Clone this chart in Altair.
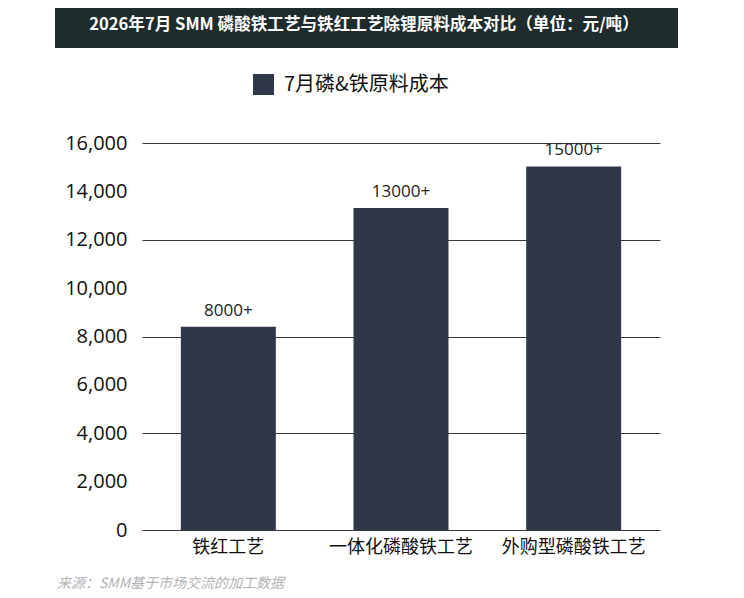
import altair as alt
import pandas as pd

# ---- data ----
categories = ["铁红工艺", "一体化磷酸铁工艺", "外购型磷酸铁工艺"]
values = [8400, 13310, 15030]
value_labels = ["8000+", "13000+", "15000+"]
series_name = "7月磷&铁原料成本"
title_text = "2026年7月 SMM 磷酸铁工艺与铁红工艺除锂原料成本对比（单位：元/吨）"
source_text = "来源：SMM基于市场交流的加工数据"
y_ticks = list(range(0, 16001, 2000))

df = pd.DataFrame({
    "process": categories,
    "value": values,
    "label": value_labels,
    "series": [series_name] * len(categories),
})

FONT = "Open Sans, Noto Sans CJK SC, sans-serif"
BAR = "#2f3749"
W, H = 518, 387

x_enc = alt.X(
    "process:N", sort=categories,
    scale=alt.Scale(paddingInner=0.45, paddingOuter=0.225),
    axis=alt.Axis(title=None, labelAngle=0, domain=False, ticks=False,
                  labelFontSize=18, labelPadding=8, labelColor="#111111",
                  labelFont="Noto Sans CJK SC", labelLimit=0),
)
y_enc = alt.Y(
    "value:Q",
    scale=alt.Scale(domain=[0, 16000], nice=False),
    axis=alt.Axis(values=y_ticks, format=",d", title=None, domain=False, ticks=False,
                  labelFontSize=20, labelPadding=15, labelColor="#111111",
                  gridColor="#3a3a3a", gridWidth=1,
                  gridOpacity={"condition": {"test": "datum.value % 4000 === 0", "value": 1},
                               "value": 0}),
)

base = alt.Chart(df)

bars = base.mark_bar(color=BAR).encode(
    x=x_enc,
    y=y_enc,
    color=alt.Color(
        "series:N",
        scale=alt.Scale(range=[BAR]),
        legend=alt.Legend(
            title=None, orient="none", legendX=111, legendY=-69,
            symbolType="square", symbolSize=441, symbolStrokeWidth=0,
            symbolOpacity=1, labelFontSize=20, labelOffset=10, padding=0,
            labelColor="#111111", labelFont="Noto Sans CJK SC", labelLimit=0,
        ),
    ),
)

labels = base.mark_text(baseline="bottom", dy=-7, fontSize=17, color="#222222").encode(
    x=alt.X("process:N", sort=categories),
    y="value:Q",
    text="label:N",
)

title_df = pd.DataFrame({"t": [title_text]})
title_box = alt.Chart(title_df).mark_rect(color="#1f2c2d").encode(
    x=alt.value(-87), x2=alt.value(536), y=alt.value(-141), y2=alt.value(-95)
)
title_txt = alt.Chart(title_df).mark_text(
    color="white", fontSize=16.6, fontWeight="bold", align="center", baseline="middle",
    font="Noto Sans CJK SC",
).encode(x=alt.value(222), y=alt.value(-118), text="t:N")

src_df = pd.DataFrame({"t": [source_text]})
src_txt = alt.Chart(src_df).mark_text(
    color="#b3b3b3", fontSize=14, fontStyle="italic", align="left", baseline="middle",
    font="Noto Sans CJK SC",
).encode(x=alt.value(-85), y=alt.value(441), text="t:N")

chart = alt.layer(bars, labels, title_box, title_txt, src_txt).properties(
    width=W, height=H,
    autosize=alt.AutoSizeParams(type="none"),
    padding={"left": 134, "top": 135, "right": 76, "bottom": 64},
).configure(font=FONT).configure_view(stroke=None)

chart.save("out.html", embed_options={"renderer": "svg", "actions": False})
